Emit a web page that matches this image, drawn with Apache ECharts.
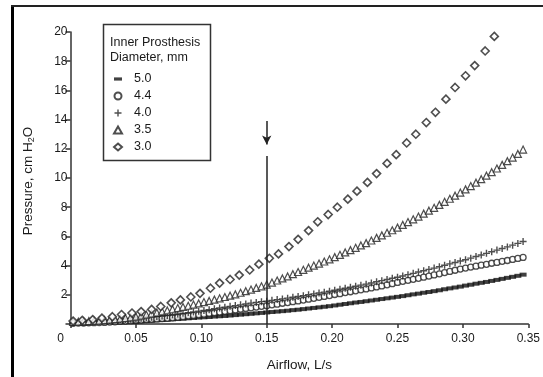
<!DOCTYPE html>
<html>
<head>
<meta charset="utf-8">
<script src="https://cdn.jsdelivr.net/npm/echarts@6/dist/echarts.min.js"></script>
<style>
html,body{margin:0;padding:0;background:#fff;}
#chart{width:543px;height:377px;}
</style>
</head>
<body>
<div id="chart"></div>
<script>
// ---------- data ----------
var seriesNames = ['5.0', '4.4', '4.0', '3.5', '3.0'];
var legendTitle = 'Inner Prosthesis\nDiameter, mm';
var xTitle = 'Airflow, L/s';
var yTitle = 'Pressure, cm H{s|2}O';
var xTicks = [0, 0.05, 0.10, 0.15, 0.20, 0.25, 0.30, 0.35];
var yTicks = [0, 2, 4, 6, 8, 10, 12, 14, 16, 18, 20];

// dense sampling (airflow, L/s) for the 5.0, 4.4, 4.0, 3.5 mm curves
var flowFine = [0.002,0.006,0.010,0.014,0.018,0.022,0.026,0.030,0.034,0.038,
0.042,0.046,0.050,0.054,0.058,0.062,0.066,0.070,0.074,0.078,
0.082,0.086,0.090,0.094,0.098,0.102,0.106,0.110,0.114,0.118,
0.122,0.126,0.130,0.134,0.138,0.142,0.146,0.150,0.154,0.158,
0.162,0.166,0.170,0.174,0.178,0.182,0.186,0.190,0.194,0.198,
0.202,0.206,0.210,0.214,0.218,0.222,0.226,0.230,0.234,0.238,
0.242,0.246,0.250,0.254,0.258,0.262,0.266,0.270,0.274,0.278,
0.282,0.286,0.290,0.294,0.298,0.302,0.306,0.310,0.314,0.318,
0.322,0.326,0.330,0.334,0.338,0.342,0.346];

var p50 = [0.04,0.04,0.05,0.05,0.06,0.07,0.08,0.09,0.10,0.12,
0.13,0.14,0.15,0.18,0.20,0.22,0.25,0.27,0.29,0.32,
0.34,0.36,0.39,0.41,0.44,0.46,0.48,0.51,0.53,0.55,
0.58,0.61,0.64,0.67,0.70,0.73,0.76,0.79,0.82,0.85,
0.88,0.91,0.95,0.98,1.02,1.06,1.10,1.14,1.18,1.22,
1.27,1.32,1.37,1.42,1.47,1.51,1.56,1.61,1.66,1.71,
1.76,1.81,1.86,1.91,1.97,2.03,2.08,2.14,2.19,2.25,
2.31,2.38,2.44,2.50,2.56,2.63,2.69,2.76,2.82,2.88,
2.95,3.02,3.09,3.16,3.23,3.30,3.38];

var p44 = [0.05,0.06,0.07,0.08,0.09,0.10,0.11,0.13,0.15,0.18,
0.20,0.23,0.25,0.27,0.30,0.32,0.35,0.37,0.39,0.42,
0.46,0.50,0.55,0.59,0.63,0.67,0.72,0.77,0.82,0.87,
0.91,0.96,1.01,1.06,1.11,1.16,1.21,1.25,1.31,1.36,
1.42,1.47,1.53,1.58,1.64,1.70,1.76,1.83,1.89,1.95,
2.02,2.08,2.15,2.21,2.27,2.34,2.40,2.47,2.54,2.61,
2.68,2.76,2.85,2.92,2.99,3.06,3.13,3.21,3.28,3.36,
3.44,3.52,3.60,3.68,3.76,3.83,3.90,3.96,4.03,4.09,
4.16,4.22,4.29,4.35,4.42,4.49,4.56];

var p40 = [0.10,0.11,0.12,0.14,0.15,0.17,0.20,0.22,0.25,0.27,
0.30,0.33,0.35,0.39,0.43,0.47,0.51,0.55,0.59,0.63,
0.68,0.73,0.78,0.83,0.88,0.93,0.98,1.04,1.10,1.15,
1.21,1.26,1.31,1.37,1.43,1.48,1.53,1.56,1.62,1.67,
1.72,1.77,1.83,1.88,1.94,2.00,2.06,2.12,2.18,2.24,
2.31,2.38,2.45,2.52,2.59,2.66,2.73,2.81,2.89,2.97,
3.05,3.13,3.20,3.29,3.38,3.47,3.56,3.65,3.74,3.83,
3.92,4.02,4.12,4.21,4.31,4.40,4.51,4.62,4.73,4.84,
4.95,5.06,5.17,5.28,5.40,5.52,5.65];

var p35 = [0.15,0.16,0.18,0.20,0.21,0.23,0.26,0.30,0.33,0.37,
0.41,0.46,0.50,0.57,0.64,0.71,0.78,0.86,0.93,1.01,
1.09,1.17,1.25,1.33,1.41,1.50,1.58,1.67,1.76,1.85,
1.94,2.03,2.14,2.25,2.36,2.47,2.58,2.70,2.84,2.98,
3.12,3.26,3.41,3.56,3.71,3.86,4.00,4.14,4.28,4.43,
4.58,4.74,4.90,5.06,5.22,5.38,5.54,5.72,5.90,6.07,
6.25,6.42,6.60,6.79,6.98,7.17,7.36,7.56,7.76,7.96,
8.16,8.37,8.58,8.79,9.00,9.22,9.45,9.68,9.92,10.16,
10.40,10.65,10.90,11.15,11.40,11.65,11.95];

// coarser sampling for the 3.0 mm curve
var flowCoarse = [0.002,0.009,0.017,0.024,0.032,0.039,0.047,0.054,0.062,0.069,
0.077,0.084,0.092,0.099,0.107,0.114,0.122,0.129,0.137,0.144,
0.152,0.159,0.167,0.174,0.182,0.189,0.197,0.204,0.212,0.219,
0.227,0.234,0.242,0.249,0.257,0.264,0.272,0.279,0.287,0.294,
0.302,0.309,0.317,0.324];
var p30 = [0.20,0.25,0.30,0.40,0.50,0.65,0.75,0.85,1.00,1.20,
1.45,1.65,1.85,2.10,2.45,2.80,3.05,3.35,3.70,4.10,
4.50,4.80,5.30,5.80,6.40,7.00,7.50,8.00,8.55,9.10,
9.70,10.30,11.00,11.60,12.40,13.00,13.80,14.50,15.40,16.20,
17.00,17.70,18.70,19.70];

// annotation: vertical marker at 0.15 L/s with arrow above
var markerFlow = 0.15;
var markerLine = [0, 11.5];
var markerArrow = [13.9, 12.3];

// ---------- chart ----------
var FONT = "'Liberation Sans', Arial, sans-serif";
var INK = '#1a1a1a';
function pairs(xs, ys) { return ys.map(function (y, i) { return [xs[i], y]; }); }

var crossPath = 'path://M4,0H6V4H10V6H6V10H4V6H0V4H4Z';
var dashPath = 'path://M0,0H10V4H0Z';

var chart = echarts.init(document.getElementById('chart'), null, {renderer: 'canvas'});
var option = {
  animation: false,
  backgroundColor: '#fff',
  textStyle: {fontFamily: FONT, color: INK},
  grid: {left: 70.5, right: 13.5, top: 32, bottom: 53, containLabel: false},
  xAxis: {
    type: 'value', min: xTicks[0], max: xTicks[xTicks.length - 1], interval: 0.05,
    name: xTitle, nameLocation: 'middle', nameGap: 34,
    nameTextStyle: {fontFamily: FONT, fontSize: 13.5, color: INK},
    axisLine: {show: true, onZero: false, lineStyle: {color: '#333', width: 1.5}},
    axisTick: {show: true, length: 4, lineStyle: {color: '#333', width: 1.5}},
    axisLabel: {
      margin: 9, fontFamily: FONT, fontSize: 12, color: INK,
      formatter: function (v) { return v === 0 ? '{z|0}' : v.toFixed(2); },
      rich: {z: {padding: [0, 20, 0, 0], fontFamily: FONT, fontSize: 12, color: INK}}
    },
    splitLine: {show: false}
  },
  yAxis: {
    type: 'value', min: yTicks[0], max: yTicks[yTicks.length - 1], interval: 2,
    axisLine: {show: true, onZero: false, lineStyle: {color: '#333', width: 1.5}},
    axisTick: {show: true, length: 5, lineStyle: {color: '#333', width: 1.5}},
    axisLabel: {
      margin: 3, fontFamily: FONT, fontSize: 12, color: INK,
      formatter: function (v) { return v === 0 ? '' : String(v); }
    },
    splitLine: {show: false}
  },
  legend: {
    orient: 'vertical', left: 113, top: 72, padding: 0,
    itemWidth: 8, itemHeight: 7, itemGap: 3,
    textStyle: {fontFamily: FONT, fontSize: 12.5, color: INK, lineHeight: 14, padding: [0, 0, 0, 7]},
    data: [
      {name: seriesNames[0], icon: dashPath},
      {name: seriesNames[1]},
      {name: seriesNames[2]},
      {name: seriesNames[3]},
      {name: seriesNames[4]}
    ]
  },
  series: [
    {
      name: seriesNames[0], type: 'scatter', data: pairs(flowFine, p50),
      symbol: 'rect', symbolSize: [7, 4],
      itemStyle: {color: '#111'}, z: 2,
      markLine: {
        silent: true, symbol: ['none', 'none'], label: {show: false},
        lineStyle: {color: '#222', width: 1.5, type: 'solid'},
        data: [
          [{coord: [markerFlow, markerLine[0]]}, {coord: [markerFlow, markerLine[1]]}],
          [{coord: [markerFlow, markerArrow[0]], symbol: 'none'},
           {coord: [markerFlow, markerArrow[1]], symbol: 'arrow', symbolSize: [7, 9]}]
        ]
      }
    },
    {
      name: seriesNames[1], type: 'scatter', data: pairs(flowFine, p44),
      symbol: 'circle', symbolSize: 6,
      itemStyle: {color: '#fff', borderColor: '#222', borderWidth: 1.3}, z: 3
    },
    {
      name: seriesNames[2], type: 'scatter', data: pairs(flowFine, p40),
      symbol: crossPath, symbolSize: 7,
      itemStyle: {color: '#222'}, z: 3
    },
    {
      name: seriesNames[3], type: 'scatter', data: pairs(flowFine, p35),
      symbol: 'triangle', symbolSize: 7,
      itemStyle: {color: '#fff', borderColor: '#222', borderWidth: 1.2}, z: 3
    },
    {
      name: seriesNames[4], type: 'scatter', data: pairs(flowCoarse, p30),
      symbol: 'diamond', symbolSize: 8,
      itemStyle: {color: '#fff', borderColor: '#222', borderWidth: 1.6}, z: 3
    }
  ],
  graphic: [
    {type: 'line', shape: {x1: 12.5, y1: 5, x2: 12.5, y2: 377}, style: {stroke: '#000', lineWidth: 3}, z: 10},
    {type: 'line', shape: {x1: 11, y1: 6, x2: 543, y2: 6}, style: {stroke: '#222', lineWidth: 2}, z: 10},
    {type: 'rect', shape: {x: 103.5, y: 24.5, width: 107, height: 136},
     style: {fill: '#fff', stroke: '#333', lineWidth: 1.5}, z: 1},
    {type: 'text', x: 110, y: 35, z: 5,
     style: {text: legendTitle, fontFamily: FONT, fontSize: 12.5, lineHeight: 15, fill: INK}},
    {type: 'text', x: 28, y: 181, rotation: Math.PI / 2, z: 5,
     style: {
       text: yTitle, textAlign: 'center', textVerticalAlign: 'middle',
       fontFamily: FONT, fontSize: 13.5, fill: INK,
       rich: {s: {fontFamily: FONT, fontSize: 9, fill: INK, padding: [7, 0, 0, 0]}}
     }}
  ]
};
chart.setOption(option);
</script>
</body>
</html>
